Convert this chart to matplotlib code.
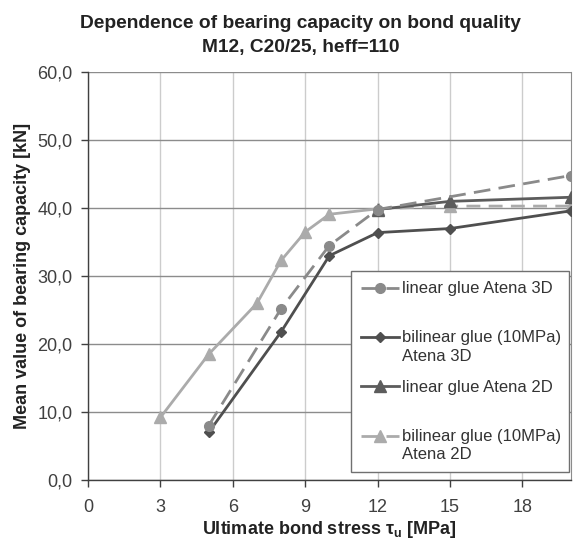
import matplotlib
matplotlib.use("Agg")
import matplotlib.pyplot as plt
from matplotlib.ticker import FuncFormatter
from matplotlib.lines import Line2D
from matplotlib.legend_handler import HandlerLine2D

plt.rcParams['font.family'] = ['Liberation Sans', 'DejaVu Sans']

# Data
x_lin3d = [5, 8, 10, 12, 20]
y_lin3d = [8.0, 25.2, 34.5, 39.8, 44.8]

x_bil3d = [5, 8, 10, 12, 15, 20]
y_bil3d = [7.0, 21.8, 33.0, 36.4, 37.0, 39.6]

x_lin2d = [12, 15, 20]
y_lin2d = [39.8, 41.0, 41.6]

x_bil2d = [3, 5, 7, 8, 9, 10, 12, 15, 20]
y_bil2d = [9.2, 18.5, 26.0, 32.3, 36.5, 39.1, 39.9, 40.3, 40.3]

labels = ["linear glue Atena 3D\n", "bilinear glue (10MPa)\nAtena 3D",
          "linear glue Atena 2D\n", "bilinear glue (10MPa)\nAtena 2D"]
xticks = [0, 3, 6, 9, 12, 15, 18]
yticks = [0, 10, 20, 30, 40, 50, 60]

c_lin3d = "#8a8a8a"
c_bil3d = "#4f4f4f"
c_lin2d = "#5c5c5c"
c_bil2d = "#ababab"

fig = plt.figure(figsize=(5.76, 5.39), dpi=100)
ax = fig.add_axes([0.1528, 0.1095, 0.838, 0.7565])

lw = 2.0
ax.plot(x_bil2d[:7], y_bil2d[:7], color=c_bil2d, lw=lw, marker='^', ms=8, zorder=3)
ax.plot(x_bil2d[6:], y_bil2d[6:], color=c_bil2d, lw=lw, ls=(0, (5, 3)), marker='^', ms=8, zorder=3)
ax.plot(x_lin2d, y_lin2d, color=c_lin2d, lw=lw, marker='^', ms=8, zorder=4)
ax.plot(x_bil3d, y_bil3d, color=c_bil3d, lw=lw, marker='D', ms=5.5, zorder=5)
ax.plot(x_lin3d, y_lin3d, color=c_lin3d, lw=lw, ls=(0, (6, 3)), marker='o', ms=7, zorder=6)

ax.set_xlim(0, 20)
ax.set_ylim(0, 60)
ax.set_xticks(xticks)
ax.set_yticks(yticks)
ax.yaxis.set_major_formatter(FuncFormatter(lambda v, p: f"{v:.1f}".replace('.', ',')))

ax.grid(axis='y', color='#8c8c8c', lw=1.0)
ax.grid(axis='x', color='#cccccc', lw=1.0)
ax.set_axisbelow(True)

for s in ['left', 'bottom']:
    ax.spines[s].set_color('#404040')
    ax.spines[s].set_linewidth(1.0)
ax.spines['top'].set_visible(False)
ax.spines['right'].set_color('#8c8c8c')

ax.tick_params(axis='both', direction='out', length=5, width=1, color='#404040',
               labelsize=13, labelcolor='#404040')
ax.tick_params(axis='y', pad=6)
ax.tick_params(axis='x', pad=8.5)

ax.set_xlabel("Ultimate bond stress τ$_\\mathregular{u}$ [MPa]", fontsize=13,
              fontweight='bold', color='#222222', labelpad=2)
ax.set_ylabel("Mean value of bearing capacity [kN]", fontsize=13,
              fontweight='bold', color='#222222', labelpad=5)

fig.suptitle("Dependence of bearing capacity on bond quality\nM12, C20/25, heff=110",
             x=0.522, y=0.973, fontsize=13.8, fontweight='bold', color='#222222',
             linespacing=1.55)


class UpHandler(HandlerLine2D):
    def __init__(self, shift, **kw):
        super().__init__(**kw)
        self.shift = shift

    def create_artists(self, legend, orig_handle, xdescent, ydescent, width, height,
                       fontsize, trans):
        return super().create_artists(legend, orig_handle, xdescent,
                                      ydescent - 2 * self.shift, width, height,
                                      fontsize, trans)


handles = [
    Line2D([], [], color=c_lin3d, lw=lw, ls=(0, (6, 3)), marker='o', ms=7),
    Line2D([], [], color=c_bil3d, lw=lw, marker='D', ms=5.5),
    Line2D([], [], color=c_lin2d, lw=lw, marker='^', ms=8),
    Line2D([], [], color=c_bil2d, lw=lw, ls=(0, (6, 3)), marker='^', ms=8),
]
hmap = {h: UpHandler(7.2) for h in handles}
leg = ax.legend(handles, labels, loc='upper left', bbox_to_anchor=(0.5445, 0.512, 0.453, 0),
                mode='expand', fontsize=12, handlelength=2.3, handletextpad=0.15,
                labelspacing=0.95, borderpad=0.6, fancybox=False, framealpha=1,
                edgecolor='#707070', borderaxespad=0, handler_map=hmap)
for t in leg.get_texts():
    t.set_color('#333333')
    t.set_linespacing(1.28)
leg.get_frame().set_linewidth(1.0)

fig.savefig("out.png", dpi=100)
